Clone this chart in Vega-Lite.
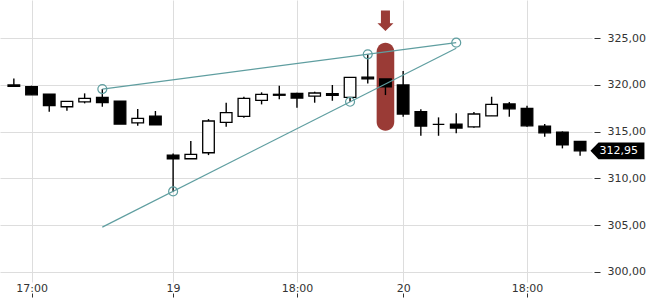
{
  "$schema": "https://vega.github.io/schema/vega-lite/v6.json",
  "width": 592,
  "height": 282,
  "autosize": {"type": "none"},
  "padding": {"left": 0, "top": 0, "right": 58, "bottom": 18},
  "background": "white",
  "config": {"view": {"stroke": null}, "font": "DejaVu Sans"},
  "datasets": {
    "candles": [
      {"i": 0, "o": 320.0, "h": 320.7, "l": 319.85, "c": 319.85},
      {"i": 1, "o": 319.81, "h": 319.92, "l": 318.95, "c": 318.95},
      {"i": 2, "o": 319.03, "h": 319.03, "l": 317.13, "c": 317.78},
      {"i": 3, "o": 317.67, "h": 318.24, "l": 317.24, "c": 318.24},
      {"i": 4, "o": 318.2, "h": 319.1, "l": 318.03, "c": 318.57},
      {"i": 5, "o": 318.67, "h": 319.56, "l": 317.67, "c": 318.1},
      {"i": 6, "o": 318.28, "h": 318.28, "l": 315.81, "c": 315.81},
      {"i": 7, "o": 315.95, "h": 317.42, "l": 315.63, "c": 316.42},
      {"i": 8, "o": 316.67, "h": 317.21, "l": 315.74, "c": 315.74},
      {"i": 9, "o": 312.49, "h": 312.67, "l": 308.56, "c": 312.1},
      {"i": 10, "o": 312.1, "h": 313.99, "l": 312.1, "c": 312.57},
      {"i": 11, "o": 312.74, "h": 316.35, "l": 312.49, "c": 316.14},
      {"i": 12, "o": 316.0, "h": 318.1, "l": 315.52, "c": 317.03},
      {"i": 13, "o": 316.64, "h": 318.74, "l": 316.49, "c": 318.57},
      {"i": 14, "o": 318.35, "h": 319.21, "l": 317.92, "c": 318.99},
      {"i": 15, "o": 319.0, "h": 319.92, "l": 318.46, "c": 318.9},
      {"i": 16, "o": 319.1, "h": 319.17, "l": 317.56, "c": 318.6},
      {"i": 17, "o": 318.81, "h": 319.28, "l": 318.1, "c": 319.14},
      {"i": 18, "o": 319.06, "h": 320.0, "l": 318.31, "c": 318.89},
      {"i": 19, "o": 318.67, "h": 320.82, "l": 318.2, "c": 320.82},
      {"i": 20, "o": 320.83, "h": 323.28, "l": 320.17, "c": 320.66},
      {"i": 21, "o": 320.64, "h": 320.64, "l": 318.92, "c": 319.81},
      {"i": 22, "o": 320.0, "h": 321.49, "l": 316.6, "c": 316.89},
      {"i": 23, "o": 317.13, "h": 317.39, "l": 314.56, "c": 315.6},
      {"i": 24, "o": 315.78, "h": 316.53, "l": 314.56, "c": 315.78},
      {"i": 25, "o": 315.81, "h": 316.96, "l": 314.82, "c": 315.39},
      {"i": 26, "o": 315.52, "h": 317.1, "l": 315.42, "c": 316.89},
      {"i": 27, "o": 316.7, "h": 318.74, "l": 316.7, "c": 317.92},
      {"i": 28, "o": 317.96, "h": 318.17, "l": 316.6, "c": 317.45},
      {"i": 29, "o": 317.5, "h": 317.77, "l": 315.52, "c": 315.63},
      {"i": 30, "o": 315.6, "h": 315.81, "l": 314.45, "c": 314.88},
      {"i": 31, "o": 314.96, "h": 315.03, "l": 313.21, "c": 313.6},
      {"i": 32, "o": 313.96, "h": 313.96, "l": 312.42, "c": 312.95}
    ],
    "trend": [
      {"line": "A", "i": 5, "v": 319.56},
      {"line": "A", "i": 25, "v": 324.53},
      {"line": "B", "i": 5, "v": 304.78},
      {"line": "B", "i": 25, "v": 323.94}
    ],
    "anchors": [
      {"i": 5, "v": 319.56},
      {"i": 20, "v": 323.28},
      {"i": 25, "v": 324.53},
      {"i": 9, "v": 308.6},
      {"i": 19, "v": 318.2}
    ],
    "highlight": [{"i": 21, "v0": 315.1, "v1": 324.53}],
    "arrow": [{"i": 21, "v": 326.87}],
    "tag": [{"i": 34.11, "ti": 34.19, "v": 312.95, "label": "312,95"}]
  },
  "layer": [
    {
      "data": {"name": "highlight"},
      "mark": {"type": "bar", "color": "#9a3b36", "cornerRadius": 9, "width": 17.6},
      "encoding": {
        "x": {
          "field": "i", "type": "quantitative", "title": null,
          "scale": {"domain": [-0.5, 32.39], "nice": false, "zero": false},
          "axis": {
            "values": [1, 9, 16, 22, 29],
            "labelExpr": "datum.value == 1 ? '17:00' : datum.value == 9 ? '19' : datum.value == 16 ? '18:00' : datum.value == 22 ? '20' : '18:00'",
            "grid": true, "gridColor": "#dddddd", "gridWidth": 1,
            "domain": false, "ticks": true, "tickSize": 4, "tickColor": "#333333",
            "offset": 11, "labelPadding": -15, "labelFontSize": 11, "labelColor": "#333333",
            "labelFlush": false, "labelOverlap": false, "labelBound": false, "title": null
          }
        },
        "y": {
          "field": "v0", "type": "quantitative", "title": null,
          "scale": {"domain": [298.9, 329.1], "nice": false, "zero": false},
          "axis": {
            "orient": "right",
            "values": [300, 305, 310, 315, 320, 325],
            "labelExpr": "replace(format(datum.value, '.2f'), '.', ',')",
            "grid": true, "gridColor": "#dddddd", "gridWidth": 1,
            "domain": false, "tickSize": 6, "tickColor": "#333333",
            "offset": 2, "labelPadding": 7, "labelFontSize": 11, "labelColor": "#333333",
            "labelFlush": false, "labelOverlap": false, "title": null
          }
        },
        "y2": {"field": "v1"}
      }
    },
    {
      "data": {"name": "candles"},
      "mark": {"type": "rule", "color": "black", "strokeWidth": 1.4},
      "encoding": {
        "x": {"field": "i", "type": "quantitative", "title": null},
        "y": {"field": "l", "type": "quantitative", "title": null},
        "y2": {"field": "h"}
      }
    },
    {
      "data": {"name": "candles"},
      "mark": {"type": "bar", "width": 11.6, "stroke": "black", "strokeWidth": 1.3},
      "encoding": {
        "x": {"field": "i", "type": "quantitative", "title": null},
        "y": {"field": "o", "type": "quantitative", "title": null},
        "y2": {"field": "c"},
        "fill": {"condition": {"test": "datum.c < datum.o", "value": "black"}, "value": "white"}
      }
    },
    {
      "data": {"name": "trend"},
      "mark": {"type": "line", "color": "#5f9ea0", "strokeWidth": 1.2},
      "encoding": {
        "x": {"field": "i", "type": "quantitative", "title": null},
        "y": {"field": "v", "type": "quantitative", "title": null},
        "detail": {"field": "line"}
      }
    },
    {
      "data": {"name": "anchors"},
      "mark": {"type": "point", "filled": false, "color": "#5f9ea0", "size": 80, "strokeWidth": 1.2, "opacity": 1},
      "encoding": {
        "x": {"field": "i", "type": "quantitative", "title": null},
        "y": {"field": "v", "type": "quantitative", "title": null}
      }
    },
    {
      "data": {"name": "arrow"},
      "mark": {"type": "point", "filled": true, "color": "#9a3b36", "opacity": 1, "size": 420,
        "shape": "M-0.44,-1L0.44,-1L0.44,0.24L0.78,0.24L0,1L-0.78,0.24L-0.44,0.24Z"},
      "encoding": {
        "x": {"field": "i", "type": "quantitative", "title": null},
        "y": {"field": "v", "type": "quantitative", "title": null}
      }
    },
    {
      "data": {"name": "tag"},
      "mark": {"type": "point", "filled": true, "color": "black", "opacity": 1, "size": 2916,
        "shape": "M-1,0L-0.7,-0.31L1,-0.31L1,0.31L-0.7,0.31Z"},
      "encoding": {
        "x": {"field": "i", "type": "quantitative", "title": null},
        "y": {"field": "v", "type": "quantitative", "title": null}
      }
    },
    {
      "data": {"name": "tag"},
      "mark": {"type": "text", "color": "white", "fontSize": 11, "align": "center", "baseline": "middle"},
      "encoding": {
        "x": {"field": "ti", "type": "quantitative", "title": null},
        "y": {"field": "v", "type": "quantitative", "title": null},
        "text": {"field": "label"}
      }
    }
  ]
}
